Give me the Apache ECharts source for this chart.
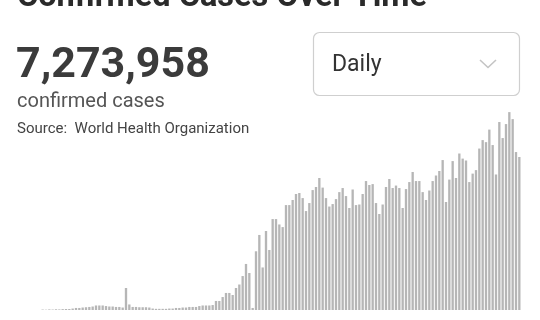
<!DOCTYPE html>
<html>
<head>
<meta charset="utf-8">
<script src="https://cdn.jsdelivr.net/npm/echarts@6/dist/echarts.min.js"></script>
<style>
html,body{margin:0;padding:0;background:#fff;}
#chart{width:540px;height:320px;}
</style>
</head>
<body>
<div id="chart"></div>
<script>
// Daily confirmed cases (WHO)
const startDate = '2020-01-19';
const dailyCases = [
  300, 200, 400, 300, 500, 400, 600, 700, 700, 1000,
  1400, 1400, 1700, 1900, 2100, 2400, 3100, 3100, 3100, 2700,
  2400, 2400, 2100, 2100, 1700, 15100, 3800, 2100, 2100, 1900,
  1900, 1900, 1700, 1000, 800, 800, 800, 800, 1000, 1000,
  1400, 1400, 1700, 1700, 2100, 2100, 2100, 2700, 3100, 3100,
  3100, 3400, 6200, 6200, 8900, 11700, 11700, 10300, 15100, 17500,
  23300, 31600, 25400, 1400, 40300, 51500, 29200, 54200, 41200, 62400,
  62400, 58700, 56900, 72000, 72000, 75500, 79600, 80300, 76800, 67900,
  73400, 82300, 84400, 90600, 84000, 76800, 71000, 72700, 76100, 80900,
  83700, 78200, 70000, 82700, 72000, 72400, 79600, 88500, 85800, 86400,
  73400, 65900, 72400, 84400, 89900, 83700, 85400, 83700, 70000, 83000,
  87800, 94700, 88500, 88500, 80900, 75500, 82000, 88500, 92300, 95400,
  102900, 74100, 89500, 102200, 90600, 107400, 103900, 102600, 87800, 93600,
  96000, 110800, 116600, 115200, 123800, 113200, 93000, 129000, 118000, 127600,
  135800, 131000, 108400, 105000
];
const totalLabel = '7,273,958';
const titleText = 'Confirmed Cases Over Time';
const subLabel = 'confirmed cases';
const sourceText = 'Source:  World Health Organization';
const periodLabel = 'Daily';

// category labels (dates)
const dates = [];
(function () {
  const d0 = new Date(startDate + 'T00:00:00Z');
  for (let i = 0; i < dailyCases.length; i++) {
    const d = new Date(d0.getTime() + i * 86400000);
    dates.push(d.toISOString().slice(0, 10));
  }
})();

const chart = echarts.init(document.getElementById('chart'), null, {renderer: 'canvas'});
const FONT = 'Roboto, "Noto Sans", sans-serif';
chart.setOption({
  backgroundColor: '#ffffff',
  animation: false,
  grid: {left: 41, right: 19, top: 106, bottom: 10, containLabel: false},
  xAxis: {
    type: 'category', data: dates,
    axisLine: {show: false}, axisTick: {show: false}, axisLabel: {show: false},
    splitLine: {show: false}
  },
  yAxis: {
    type: 'value', min: 0, max: 140000,
    axisLine: {show: false}, axisTick: {show: false}, axisLabel: {show: false},
    splitLine: {show: false}
  },
  series: [{
    type: 'bar', data: dailyCases, barWidth: '70%',
    itemStyle: {color: '#b6b6b6'},
    silent: true
  }],
  graphic: [
    {type: 'text', left: 17, top: -19, style: {text: titleText, font: 'bold 32.5px ' + FONT, fill: '#2a2a2a'}},
    {type: 'text', x: 16, y: 66.5, style: {text: totalLabel, font: 'bold 43px ' + FONT, fill: '#3b3b3b', verticalAlign: 'middle'}},
    {type: 'text', x: 17, y: 101.5, style: {text: subLabel, font: '20px ' + FONT, fill: '#555555', verticalAlign: 'middle'}},
    {type: 'text', x: 17, y: 129.5, style: {text: sourceText, font: '15px ' + FONT, fill: '#444444', verticalAlign: 'middle'}},
    {type: 'rect', shape: {x: 313.5, y: 32.5, width: 206, height: 63, r: 6},
      style: {fill: '#ffffff', stroke: '#cfcfcf', lineWidth: 1.2}},
    {type: 'text', x: 332, y: 65.5, style: {text: periodLabel, font: '23px ' + FONT, fill: '#333333', verticalAlign: 'middle'}},
    {type: 'polyline', shape: {points: [[480, 60], [488, 67.5], [496, 60]]},
      style: {stroke: '#c4c4c4', lineWidth: 1.6, fill: null}}
  ]
});
</script>
</body>
</html>
